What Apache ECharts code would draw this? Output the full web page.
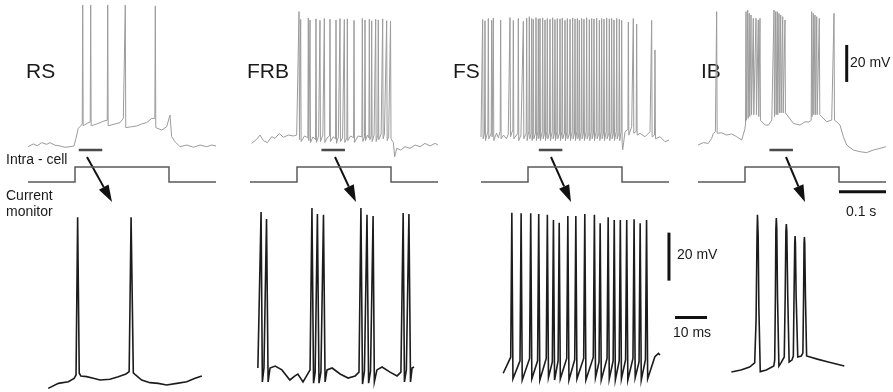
<!DOCTYPE html>
<html>
<head>
<meta charset="utf-8">
<script src="https://cdn.jsdelivr.net/npm/echarts@6/dist/echarts.min.js"></script>
<style>
  html, body { margin: 0; padding: 0; background: #fff; }
  #chart { width: 893px; height: 392px; }
</style>
</head>
<body>
<div id="chart"></div>
<script>
// ---- Cell classes -------------------------------------------------------
const cellTypes = ['RS', 'FRB', 'FS', 'IB'];

// ---- Intracellular recordings, 0-400 ms (ms, mV) ------------------------
// sub-threshold samples [t, mV]; spikes [t, pre, peak, post]
const rsTopBase = [[0,-64.3],[11.3,-62.8],[19.8,-63.8],[29.1,-62.1],[39.8,-63],[46.8,-62.1],[57.4,-63.5],[68.1,-63.9],[78.7,-64.6],[89.4,-64.3],[97.9,-63.9],[102.1,-59.8],[107,-54.4],[112.1,-53.1],[126.2,-51.6],[137.7,-53.1],[146.2,-52],[153.2,-51.3],[163.8,-50.2],[174.5,-53.1],[185.1,-52],[195.7,-51.3],[202.8,-49],[211.3,-54.4],[220.6,-53.5],[231.3,-53.1],[241.9,-52],[252.6,-51.3],[263.2,-49],[275.1,-54.4],[284.5,-55.3],[295.1,-53.5],[302.1,-47.2],[305.7,-58.9],[312.8,-61.6],[323.4,-64.3],[337.7,-63.4],[351.7,-64.6],[366,-63.4],[380.2,-64.3],[390.9,-63.4],[400,-63.9]];
const rsTopSpikes = [[116.4,-52,12.3,-53],[133.4,-51,12.3,-53],[169.6,-50,12.3,-53],[207.0,-49,12.3,-54],[270.9,-49,11.8,-54]];

const frbTopBase = [[3.5,-62.5],[14.2,-60.3],[21.3,-58],[28.4,-61],[36.9,-62.1],[46.1,-58.9],[53.2,-59.8],[62.4,-57.1],[70.9,-59.2],[81.6,-58],[92.2,-58.5],[99.3,-58],[116,-58.5],[134,-59],[146,-58.5],[155,-58],[164,-59.5],[177,-59],[188,-59],[197,-59.5],[214,-58.5],[230,-58.5],[250,-58],[264,-58],[279,-57.5],[286,-57.5],[295,-59],[305,-62],[307.8,-69.7],[312.1,-65.2],[320.6,-66.1],[329.8,-64.3],[340.4,-65.2],[351.1,-63.4],[361.7,-64.3],[372.3,-62.5],[383,-63.9],[393.6,-62.5],[400,-63.4]];
const frbTopSpikes = [[104.3,-59,8.7,-60.5],[107.8,-60,4.5,-61.5],[124.1,-59.5,5.3,-61],[127.7,-60,4.2,-62],[140.4,-60.5,4.8,-62],[148.9,-59.5,4.0,-61.5],[158.2,-59,5.0,-62],[170.2,-58.5,4.6,-61.5],[183,-60,4.2,-62.5],[191.5,-58.5,5.0,-61.5],[200.7,-58.5,4.4,-62],[207.1,-59.5,4.8,-61],[221.3,-59.5,4.0,-62],[239,-59,5.0,-61.5],[244.7,-59,4.2,-61],[253.9,-59.5,4.6,-60.5],[258.9,-58.5,3.8,-61.5],[267.4,-58.5,4.6,-61.5],[273,-58,4.2,-60.5],[282.3,-58,4.8,-60],[290.8,-58,3.8,-61],[299,-59,3.6,-60]];

const fsTopBase = [[0,-59],[12,-58.5],[19,-60],[33,-57],[37,-59.5],[48,-58],[54,-60],[58,-57.5],[74,-59],[85,-58],[94,-60],[100,-58],[301.5,-66],[306.4,-56.2],[320.6,-53.5],[327.7,-56.2],[338.3,-57.1],[349,-58.9],[359.6,-56.2],[375,-60.7],[380.9,-58.9],[391.5,-61.6],[400,-60.7]];
const fsTopSpikes = [[3.5,-58,4.5,-60],[8.5,-57,3.8,-61],[15.6,-56,5.0,-60],[22.7,-57,4.0,-59],[26.2,-58,5.2,-61],[41.8,-56,4.2,-60],[61.7,-57,5.5,-59],[68.8,-55,4.0,-60],[79.4,-57,5.0,-61],[90.1,-58,3.5,-60],[97.2,-57,5.2,-61],
  [102.8,-56,6.0,-60],[107.8,-57,5.0,-61],[111.3,-56,4.5,-60],[117,-57,5.5,-61],[122,-56,4.8,-60],[125.5,-57,5.0,-61],[131.2,-56,5.3,-60],[136.2,-57,4.2,-61],[141.1,-56,5.0,-60],[146.8,-57,4.6,-61],[152.5,-56,5.4,-60],[157.4,-57,4.4,-61],[162.4,-56,5.0,-60],[168.1,-57,4.8,-61],[173,-56,5.2,-60],[178.7,-57,4.0,-61],[183.7,-56,5.0,-60],[189.4,-57,4.6,-61],[195,-56,5.3,-60],[200,-57,4.8,-61],[205,-56,5.0,-60],[209.2,-57,4.2,-61],[214.2,-56,5.0,-60],[219.1,-57,4.6,-61],[224.8,-56,5.4,-60],[230.5,-57,4.4,-61],[235.5,-56,5.0,-60],[240.4,-57,4.8,-61],[246.1,-56,5.2,-60],[251.8,-57,4.0,-61],[256.7,-56,5.0,-60],[261.7,-57,4.6,-61],[267.4,-56,5.3,-60],[273,-57,4.8,-61],[278,-56,5.0,-60],[283,-57,4.2,-61],[288.7,-56,5.0,-60],[294.3,-57,4.6,-61],[299.3,-56,4.0,-62],
  [313.5,-55,3.0,-58],[324.1,-54,5.0,-57],[331.2,-56,2.0,-58],[363.1,-57,4.0,-59],[370.2,-58,-12,-60]];

const ibTopBase = [[0,-63.4],[11.3,-62.1],[21.9,-62.5],[29.1,-59.8],[32.6,-57.1],[37,-56.2],[43.3,-57.1],[50.4,-56.8],[61.1,-58],[71.7,-57.4],[82.3,-58.9],[93,-60.7],[96.5,-61.6],[99.5,-55],[137,-51],[143,-52.6],[150,-52.6],[157,-49.9],[190,-46.3],[202.8,-51.7],[217,-52.6],[227.7,-50.8],[236,-51],[263.2,-47.2],[273.8,-50.8],[284.5,-49.9],[295.1,-50.8],[302.1,-52.6],[309.2,-58.9],[316.4,-63.4],[330.4,-66.1],[344.7,-67],[358.9,-67.5],[373,-66.1],[387.2,-65.2],[400,-64.3]];
const ibTopSpikes = [[39.7,-56.5,8.7,-57],
  [102.1,-52,8.7,-50],[105.7,-49,9.6,-49],[109.1,-48,7.8,-48],[112.8,-47,6.9,-47],[117.7,-47,5.1,-47],[123.4,-47,5.1,-47],[128.3,-47,4.2,-48],[131.9,-48,5.1,-50],
  [161.7,-49,9.6,-48],[165.3,-47,8.7,-47],[168.7,-47,8.7,-47],[172.3,-46,7.8,-46],[175.9,-46,6.9,-46],[180.2,-46,6.0,-46],[185.1,-46,4.2,-46],
  [241.8,-50,8.7,-48],[245.4,-47,7.8,-47],[248.9,-47,6.9,-47],[252.6,-47,6.0,-47],[258.1,-47,5.1,-47],
  [289.4,-49.5,7.8,-50]];

// ---- Current monitor: step command (ms, relative amplitude) -------------
const stepTimes  = [0, 100, 100, 300, 300, 400];
const stepLevels = [0, 0, 1, 1, 0, 0];

// ---- Expanded 50 ms windows (start in ms of the top trace) --------------
const windowStarts = [108, 152, 123, 152];
const windowLength = 50;

// ---- Expanded recordings (ms, mV) --------------------------------------
const rsBottom = [[1.0,-68.5],[4.2,-66.4],[7.3,-65.7],[9.1,-64.3],[9.7,-62.9],[10.2,2.8],[10.7,-62.2],[11.2,-63.3],[13.0,-63.6],[15.1,-64.3],[17.2,-65],[20.3,-64.7],[22.9,-63.6],[25.3,-62.5],[26.3,-61.5],[26.9,2.8],[27.6,-62.0],[28.3,-62.9],[30.2,-65],[32.8,-66.1],[35.4,-66.4],[38.0,-67.1],[41.2,-66.4],[44.3,-65.7],[46.9,-64.3],[49.0,-63.3]];
const frbBottom = [[0.9,-60],[1.4,-60.8],[1.9,5],[2.3,-65.8],[2.8,-60],[3.1,-60.4],[3.6,2.1],[4.1,-65.8],[4.7,-60],[6.3,-59.2],[8.4,-60.8],[10.9,-65],[12.5,-63.3],[13.4,-62.5],[15.0,-65.8],[16.3,-62.9],[17.2,-60.8],[17.8,6.7],[18.3,-66.3],[18.8,-61.7],[19.5,4.2],[20.0,-66.3],[20.6,-61.7],[21.4,3.8],[21.9,-65.8],[22.5,-60.8],[24.1,-60],[26.6,-62.5],[29.1,-64.2],[31.3,-63.3],[32.5,-61.7],[33.1,6.7],[33.6,-66.7],[34.2,-61.3],[35.0,3.8],[35.5,-66.3],[36.1,-61.3],[36.9,3.3],[37.3,-65.8],[38.1,-60.8],[39.7,-59.6],[42.2,-61.7],[44.4,-63.3],[45.6,-61.7],[46.3,4.6],[46.7,-65.8],[47.3,-60.8],[48.1,4.2],[48.6,-65.8],[49.1,-60],[49.7,-59.6]];
const fsBottomBase = [[1.0,-62.2],[48.4,-55.3],[49.5,-53.9],[50,-54.6]];
const fsBottomSpikes = [[3.7,-55.5,4.7,-64.5],[6.6,-57,4.5,-65],[9.6,-56,4.5,-64.5],[12.1,-57,4.2,-65],[14.8,-56,3.8,-64],[16.7,-57.5,1.7,-65],[18.5,-57,0.5,-64.5],[21.2,-56,3.3,-65],[23.7,-56.5,3.3,-64.5],[26.5,-56,4.2,-65],[29.5,-55.5,3.8,-64],[31.3,-57.5,0.3,-65],[33.8,-56,2.8,-64.5],[35.7,-57,1.7,-65],[37.6,-57,1.7,-64.5],[39.6,-56.5,1.7,-65],[41.9,-56,2.0,-64],[43.8,-57.5,0.3,-65],[45.8,-56.5,1.7,-64.5]];
const ibBottom = [[0.6,-61.7],[4.7,-60.8],[8.4,-59.6],[10.6,-57.9],[11.2,-40],[11.6,-5],[11.8,3.8],[12.1,-5],[12.4,-35],[13.0,-61.5],[15.6,-60.8],[18.8,-59.2],[19.2,-56.7],[19.5,-30],[19.7,-2],[19.9,2.5],[20.1,-2],[20.4,-30],[21.0,-59.2],[21.9,-57.9],[23.3,-55.4],[23.7,-30],[24.0,-3],[24.2,0],[24.4,-3],[24.8,-30],[25.4,-57.5],[26.6,-56.7],[27.2,-55],[27.5,-30],[27.8,-8],[27.95,-5],[28.1,-8],[28.4,-30],[29.1,-55.4],[30.6,-55],[31.3,-53.8],[31.6,-30],[31.8,-8],[31.95,-5.4],[32.1,-8],[32.4,-30],[32.9,-55],[34.4,-55.4],[37.5,-56.3],[42.2,-57.5],[49.1,-59.2]];

// ---- Scale bars --------------------------------------------------------
const voltScale = 20;        // mV
const topTimeScale = 100;    // ms  (0.1 s)
const bottomTimeScale = 10;  // ms

// merge sub-threshold samples with spike records into one sorted trace
function buildTrace(base, spikes, halfWidth) {
  const pts = base.map(p => [p[0], p[1]]);
  spikes.forEach(s => {
    pts.push([s[0] - halfWidth, s[1]], [s[0], s[2]], [s[0] + halfWidth, s[3]]);
  });
  pts.sort((a, b) => a[0] - b[0]);
  return pts;
}

const topTraces = [
  buildTrace(rsTopBase, rsTopSpikes, 1),
  buildTrace(frbTopBase, frbTopSpikes, 1),
  buildTrace(fsTopBase, fsTopSpikes, 1),
  buildTrace(ibTopBase, ibTopSpikes, 1)
];
const bottomTraces = [
  rsBottom,
  frbBottom,
  buildTrace(fsBottomBase, fsBottomSpikes, 0.35),
  ibBottom
];
const stepData = stepTimes.map((t, i) => [t, stepLevels[i]]);

// ---- Layout ------------------------------------------------------------
const topLeft = [28, 250, 481, 698];
const topPxPerMs = 0.47;
const bottomLeft = [45, 255, 500, 730];
const bottomPxPerMs = 3.2;

const grids = [], xAxes = [], yAxes = [], series = [];
function addGrid(g, xr, yr) {
  const idx = grids.length;
  grids.push(Object.assign({ show: false }, g));
  xAxes.push({ type: 'value', gridIndex: idx, min: xr[0], max: xr[1], show: false });
  yAxes.push({ type: 'value', gridIndex: idx, min: yr[0], max: yr[1], show: false });
  return idx;
}
function lineSeries(idx, data, color, width, z) {
  return {
    type: 'line', xAxisIndex: idx, yAxisIndex: idx, data: data,
    showSymbol: false, symbol: 'none', smooth: false, clip: false, silent: true,
    animation: false, z: z || 2,
    lineStyle: { color: color, width: width, cap: 'butt', join: 'miter' }
  };
}

cellTypes.forEach((name, i) => {
  // intracellular trace
  const gTop = addGrid({ left: topLeft[i], top: 0, width: 400 * topPxPerMs, height: 166.5 }, [0, 400], [-75, 15]);
  series.push(lineSeries(gTop, topTraces[i], '#9c9c9c', 1));
  // expanded window marker
  series.push(lineSeries(gTop, [[windowStarts[i], -66.1], [windowStarts[i] + windowLength, -66.1]], '#4a4a4a', 2.5, 3));
  // current monitor
  const gStep = addGrid({ left: topLeft[i], top: 152, width: 400 * topPxPerMs, height: 45 }, [0, 400], [-1, 2]);
  series.push(lineSeries(gStep, stepData, '#5a5a5a', 1.5));
  // expanded trace
  const gBot = addGrid({ left: bottomLeft[i], top: 200, width: 70 * bottomPxPerMs, height: 192 }, [0, 70], [-70, 10]);
  series.push(lineSeries(gBot, bottomTraces[i], '#1c1c1c', 1.6));

  if (name === 'IB') {
    series.push(lineSeries(gTop, [[316.4, -9.3], [316.4, -9.3 - voltScale]], '#111', 3, 4));
    series.push(lineSeries(gStep, [[300, -0.65], [300 + topTimeScale, -0.65]], '#111', 3, 4));
  }
  if (name === 'FS') {
    series.push(lineSeries(gBot, [[52.8, -3.6], [52.8, -3.6 - voltScale]], '#111', 3, 4));
    series.push(lineSeries(gBot, [[54.7, -39], [54.7 + bottomTimeScale, -39]], '#111', 3, 4));
  }
});

// ---- Labels and arrows -------------------------------------------------
const labelFont = '21px "Liberation Sans", Arial, sans-serif';
const smallFont = '14px "Liberation Sans", Arial, sans-serif';
const labelX = [26, 247, 453, 701];
const graphics = [];
cellTypes.forEach((name, i) => {
  graphics.push({ type: 'text', x: labelX[i], y: 72, silent: true,
    style: { text: name, font: labelFont, fill: '#1a1a1a', verticalAlign: 'middle' } });
});
[
  ['Intra - cell', 6, 160], ['Current', 6, 196.5], ['monitor', 6, 212],
  ['20 mV', 850, 63], ['0.1 s', 846, 212], ['20 mV', 677, 255], ['10 ms', 673, 333]
].forEach(t => {
  graphics.push({ type: 'text', x: t[1], y: t[2], silent: true,
    style: { text: t[0], font: smallFont, fill: '#1a1a1a', verticalAlign: 'middle' } });
});

const arrows = [[87, 157, 112, 202], [335, 157, 356, 202], [551, 157, 571, 202], [786, 157, 805, 202]];
arrows.forEach(a => {
  const dx = a[2] - a[0], dy = a[3] - a[1];
  const len = Math.hypot(dx, dy), ux = dx / len, uy = dy / len;
  const headLen = 17, headHalf = 5.5;
  const bx = a[2] - ux * headLen, by = a[3] - uy * headLen;
  graphics.push({ type: 'line', silent: true,
    shape: { x1: a[0], y1: a[1], x2: bx, y2: by },
    style: { stroke: '#111', lineWidth: 2 } });
  graphics.push({ type: 'polygon', silent: true,
    shape: { points: [[a[2], a[3]], [bx - uy * headHalf, by + ux * headHalf], [bx + uy * headHalf, by - ux * headHalf]] },
    style: { fill: '#111' } });
});

const chart = echarts.init(document.getElementById('chart'), null, { renderer: 'canvas' });
chart.setOption({
  animation: false,
  backgroundColor: '#ffffff',
  grid: grids,
  xAxis: xAxes,
  yAxis: yAxes,
  series: series,
  graphic: graphics
});
</script>
</body>
</html>
